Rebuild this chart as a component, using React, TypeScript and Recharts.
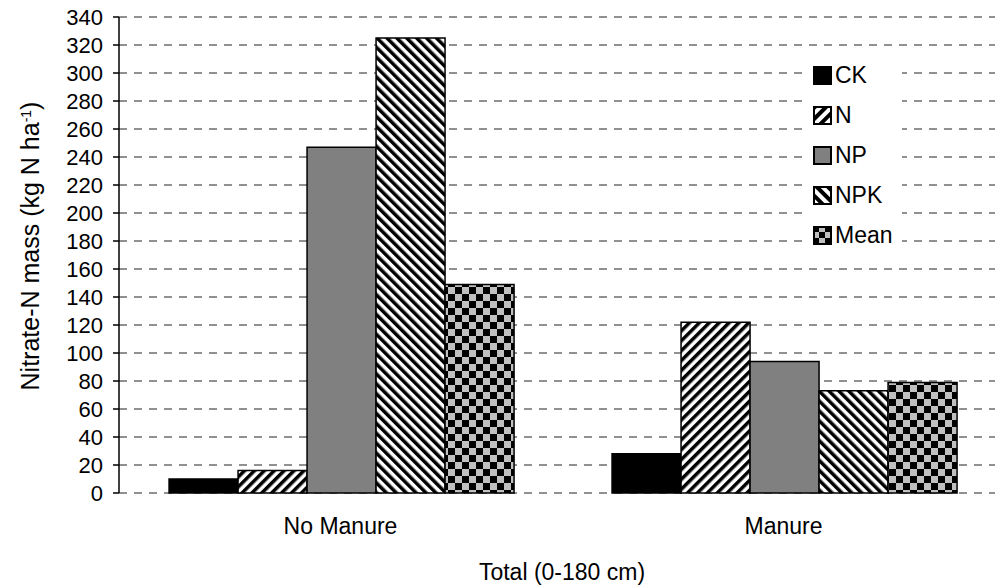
import React from 'react';
import { BarChart, Bar, XAxis, YAxis, CartesianGrid, Legend } from 'recharts';

const categories = ['No Manure', 'Manure'];
const ckValues = [10, 28];
const nValues = [16, 122];
const npValues = [247, 94];
const npkValues = [325, 73];
const meanValues = [149, 79];
const seriesNames = ['CK', 'N', 'NP', 'NPK', 'Mean'];
const yTicks = [0, 20, 40, 60, 80, 100, 120, 140, 160, 180, 200, 220, 240, 260, 280, 300, 320, 340];

const seriesValues = [ckValues, nValues, npValues, npkValues, meanValues];
const data = categories.map((c, i) => {
  const row: any = { category: c };
  seriesNames.forEach((s, k) => {
    row[s] = seriesValues[k][i];
  });
  return row;
});

const FONT = '"Liberation Sans", Arial, sans-serif';
const FS = 22;
const FS_CAT = 23;

const fills: Record<string, string> = {
  CK: '#000000',
  N: 'url(#patN)',
  NP: '#808080',
  NPK: 'url(#patNPK)',
  Mean: 'url(#patMean)',
};

const legendFills: Record<string, string> = {
  CK: '#000000',
  N: 'url(#lgN)',
  NP: '#808080',
  NPK: 'url(#lgNPK)',
  Mean: 'url(#lgMean)',
};

const XTick = (props: any) => {
  const { x, y, payload } = props;
  return (
    <text x={x} y={y} dy={41} textAnchor="middle" fill="#000" fontSize={FS_CAT} fontFamily={FONT}>
      {payload.value}
    </text>
  );
};

const YTitle = () => (
  <text
    transform="translate(39,246) rotate(-90)"
    textAnchor="middle"
    fill="#000"
    fontSize={25}
    fontFamily={FONT}
  >
    Nitrate-N mass (kg N ha
    <tspan baselineShift="super" fontSize={14}>-1</tspan>
    <tspan>)</tspan>
  </text>
);

const LegendContent = () => (
  <div style={{ background: '#fff', padding: 0, margin: 0 }}>
    <svg width={0} height={0} style={{ position: 'absolute' }}>
      <defs>
        <pattern id="lgN" patternUnits="userSpaceOnUse" width={8} height={8} patternTransform="rotate(45)">
          <rect x={0} y={0} width={8} height={8} fill="#fff" />
          <rect x={0} y={0} width={4} height={8} fill="#000" />
        </pattern>
        <pattern id="lgNPK" patternUnits="userSpaceOnUse" width={8} height={8} patternTransform="rotate(-45)">
          <rect x={0} y={0} width={8} height={8} fill="#fff" />
          <rect x={0} y={0} width={4} height={8} fill="#000" />
        </pattern>
        <pattern id="lgMean" patternUnits="userSpaceOnUse" width={12} height={12}>
          <rect x={0} y={0} width={12} height={12} fill="#c0c0c0" />
          <rect x={0} y={0} width={6} height={6} fill="#000" />
          <rect x={6} y={6} width={6} height={6} fill="#000" />
        </pattern>
      </defs>
    </svg>
    {seriesNames.map((s) => (
      <div key={s} style={{ height: 40, display: 'flex', alignItems: 'center' }}>
        <svg width={19} height={19} style={{ marginLeft: 8, marginRight: 3, display: 'block' }}>
          <rect x={1} y={1} width={17} height={17} fill={legendFills[s]} stroke="#000" strokeWidth={2} />
        </svg>
        <span style={{ fontFamily: FONT, fontSize: FS_CAT, color: '#000', lineHeight: '23px' }}>{s}</span>
      </div>
    ))}
  </div>
);

export default function App() {
  return (
    <div
      style={{
        position: 'absolute',
        left: 0,
        top: 0,
        width: 995,
        height: 588,
        overflow: 'hidden',
        background: '#fff',
      }}
    >
      <BarChart
        width={1010}
        height={588}
        data={data}
        margin={{ top: 17, right: 5, bottom: 0, left: 0 }}
        barCategoryGap="11.3%"
        barGap={0}
        style={{ fontFamily: FONT }}
      >
        <defs>
          <pattern id="patN" patternUnits="userSpaceOnUse" width={7} height={7} patternTransform="rotate(45)">
            <rect x={0} y={0} width={7} height={7} fill="#fff" />
            <rect x={0} y={0} width={3.5} height={7} fill="#000" />
          </pattern>
          <pattern id="patNPK" patternUnits="userSpaceOnUse" width={7} height={7} patternTransform="rotate(-45)">
            <rect x={0} y={0} width={7} height={7} fill="#fff" />
            <rect x={0} y={0} width={3.5} height={7} fill="#000" />
          </pattern>
          <pattern id="patMean" patternUnits="userSpaceOnUse" width={14} height={14}>
            <rect x={0} y={0} width={14} height={14} fill="#c0c0c0" />
            <rect x={0} y={0} width={7} height={7} fill="#000" />
            <rect x={7} y={7} width={7} height={7} fill="#000" />
          </pattern>
        </defs>
        <CartesianGrid vertical={false} stroke="#222" strokeDasharray="8 7" />
        <XAxis
          dataKey="category"
          axisLine={false}
          tickLine={false}
          tickSize={0}
          tickMargin={0}
          height={95}
          tick={<XTick />}
          label={{
            value: 'Total (0-180 cm)',
            position: 'insideBottom',
            offset: 8,
            fill: '#000',
            fontSize: FS_CAT,
            fontFamily: FONT,
          }}
        />
        <YAxis
          width={119}
          domain={[0, 340]}
          ticks={yTicks}
          interval={0}
          tickSize={6}
          tickMargin={10}
          axisLine={{ stroke: '#000', strokeWidth: 1.5 }}
          tickLine={{ stroke: '#000', strokeWidth: 1.5 }}
          tick={{ fill: '#000', fontSize: FS, fontFamily: FONT }}
          label={{ content: () => <YTitle /> }}
        />
        <Legend
          layout="horizontal"
          verticalAlign="middle"
          align="center"
          content={() => <LegendContent />}
          wrapperStyle={{ position: 'absolute', left: 805, top: 55, width: 97, height: 200, background: '#fff' }}
        />
        {seriesNames.map((s) => (
          <Bar
            key={s}
            dataKey={s}
            fill={fills[s]}
            stroke="#000"
            strokeWidth={1.5}
            isAnimationActive={false}
          />
        ))}
      </BarChart>
    </div>
  );
}
